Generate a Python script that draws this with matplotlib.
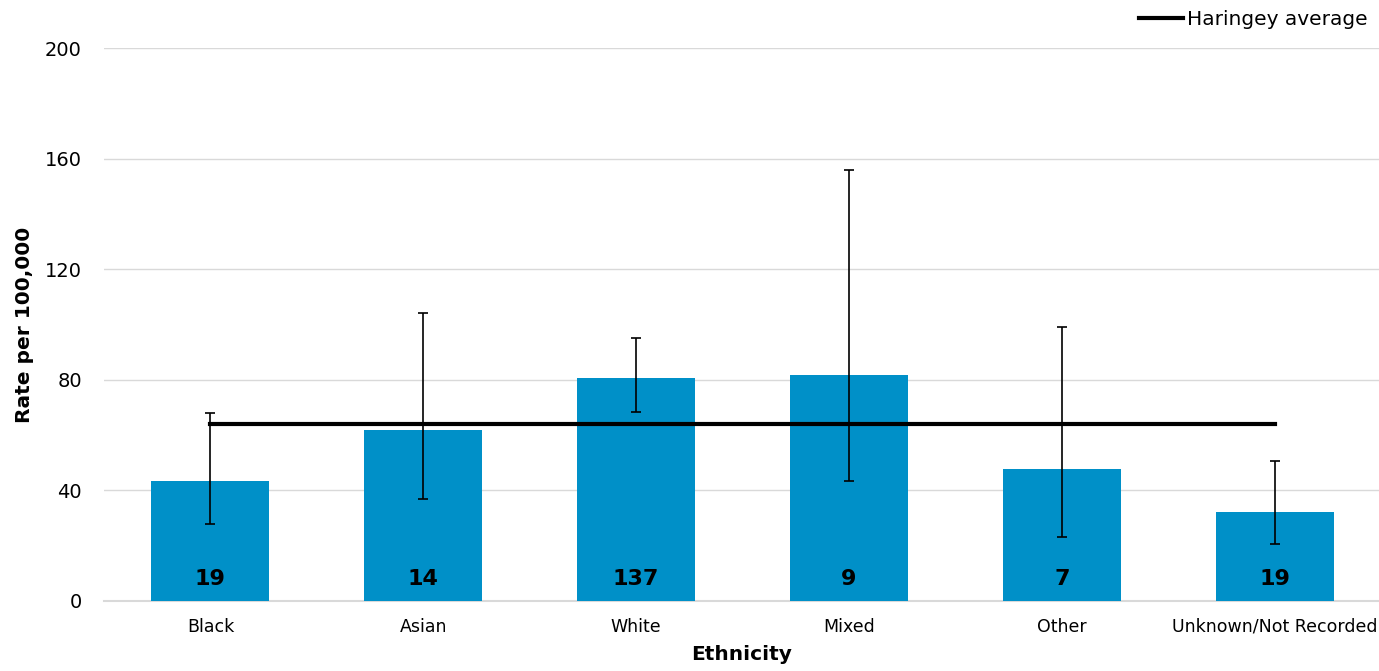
import matplotlib
matplotlib.use("Agg")
import matplotlib.pyplot as plt
import numpy as np

categories = ["Black", "Asian", "White", "Mixed", "Other", "Unknown/Not Recorded"]
rates = [43.5, 62.0, 80.8, 81.8, 47.8, 32.3]
ci_lower = [27.8, 37.0, 68.4, 43.4, 23.2, 20.6]
ci_upper = [68.0, 104.2, 95.1, 156.0, 99.0, 50.6]
counts = ["19", "14", "137", "9", "7", "19"]
haringey_avg = [64.0] * 6
yticks = [0, 40, 80, 120, 160, 200]

plt.rcParams['font.family'] = ['DejaVu Sans']

fig = plt.figure(figsize=(13.79, 6.71), dpi=100)
ax = fig.add_axes([104/1379, 1-601/671, (1379-104)/1379, (601-48)/671])

x = np.arange(len(categories))
bar_color = "#0090C8"
ax.bar(x, rates, width=0.555, color=bar_color, zorder=2)
yerr = [np.array(rates) - np.array(ci_lower), np.array(ci_upper) - np.array(rates)]
ax.errorbar(x, rates, yerr=yerr, fmt="none", ecolor="black", elinewidth=1.2,
            capsize=3.5, capthick=1.2, zorder=3)
line, = ax.plot(x, haringey_avg, color="black", lw=3.0, zorder=4, label="Haringey average")

for xi, c in zip(x, counts):
    ax.text(xi, 8, c, ha="center", va="center", fontsize=16, fontweight="bold", zorder=5)

ax.set_xlim(-0.5, 5.49)
ax.set_ylim(0, 200)
ax.set_yticks(yticks)
ax.set_yticklabels([str(t) for t in yticks], fontsize=14)
ax.set_xticks(x)
ax.set_xticklabels(categories, fontsize=12.5)
ax.tick_params(axis="both", length=0)
ax.tick_params(axis="y", pad=16)
ax.tick_params(axis="x", pad=12)
ax.grid(axis="y", color="#D9D9D9", lw=1, zorder=0)
ax.axhline(0, color="#D9D9D9", lw=1.5, zorder=1, clip_on=False)
ax.set_axisbelow(True)
for s in ax.spines.values():
    s.set_visible(False)

ax.set_ylabel("Rate per 100,000", fontsize=14.5, fontweight="bold", labelpad=8)
ax.set_xlabel("Ethnicity", fontsize=14.5, fontweight="bold", labelpad=7)

fig.legend(handles=[line], loc="upper right", bbox_to_anchor=(1378/1379, 1.0),
           frameon=False, fontsize=14.5, handlelength=2.2, handletextpad=0.2,
           borderaxespad=0.1)

fig.savefig("out.png", dpi=100)
